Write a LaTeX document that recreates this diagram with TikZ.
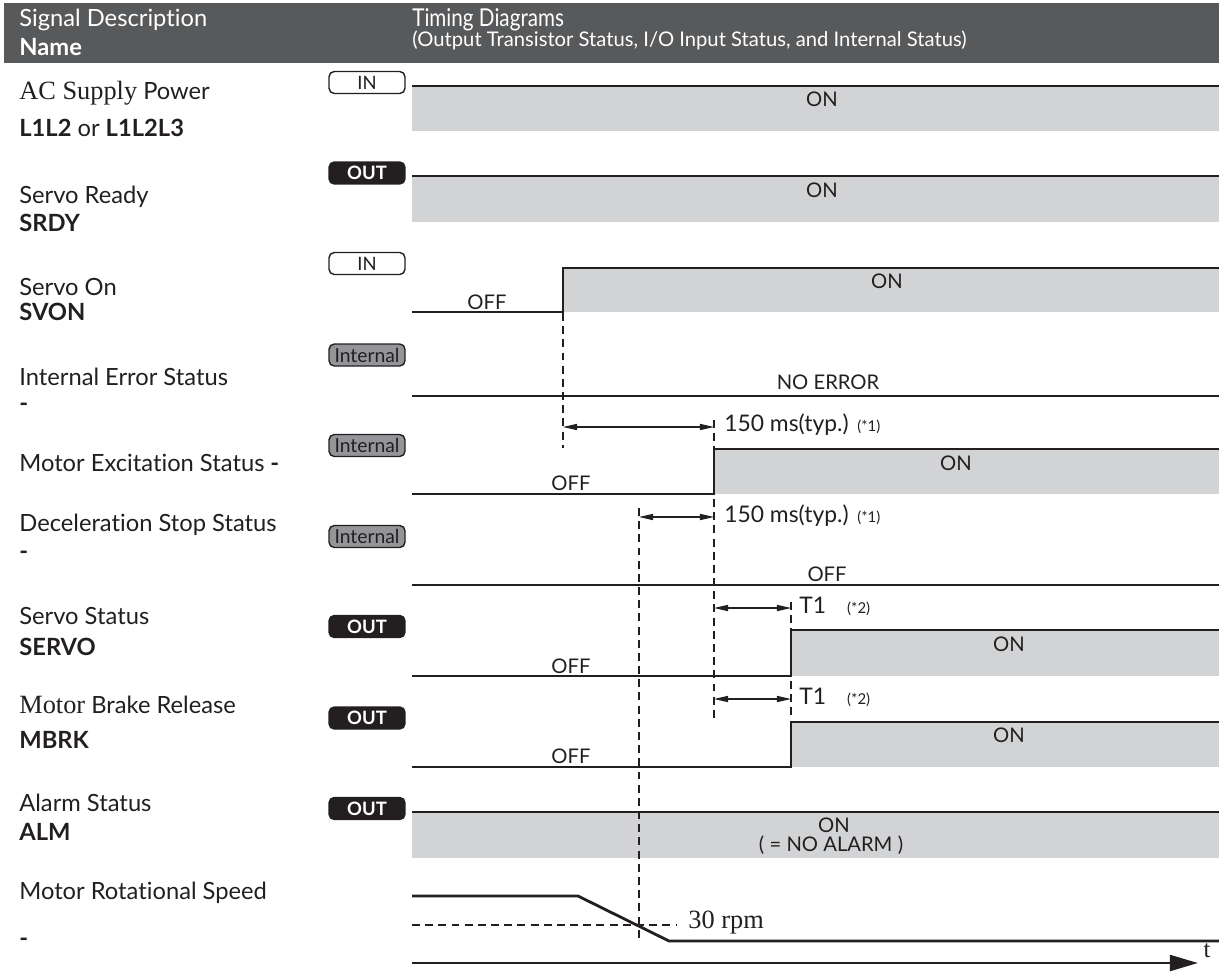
\documentclass[tikz,border=0pt]{standalone}
\usepackage{fontspec}
\usepackage{graphicx}
\setmainfont{Lato}[Ligatures={NoCommon}]
\newfontfamily\serf{Liberation Serif}
\usetikzlibrary{arrows.meta}
\definecolor{hdrgrey}{HTML}{58595B}
\definecolor{bandgrey}{HTML}{D1D3D4}
\definecolor{intgrey}{HTML}{939598}
\definecolor{ink}{HTML}{231F20}

\begin{document}
\begin{tikzpicture}[x=0.02cm,y=-0.02cm,
  wave/.style={line width=1.6pt,ink},
  band/.style={fill=bandgrey},
  guide/.style={dash pattern=on 4.5pt off 3pt,line width=0.6pt,ink},
  span/.style={{Triangle[length=8pt,width=3.5pt]}-{Triangle[length=8pt,width=3.5pt]},line width=0.6pt,ink},
  lbl/.style={anchor=west,inner sep=0pt,text=ink,font=\fontsize{13.5}{15}\selectfont},
  hdrtext/.style={anchor=west,inner sep=0pt,text=white,font=\fontsize{13.5}{15}\selectfont},
  state/.style={inner sep=0pt,text=ink,font=\fontsize{11.5}{13}\selectfont},
  note/.style={anchor=west,inner sep=0pt,text=ink,font=\fontsize{13}{15}\selectfont},
  badge/.style={rounded corners=3pt,minimum width=1.52cm,minimum height=0.44cm,inner sep=0pt,line width=0.8pt,font=\fontsize{10.5}{12}\selectfont},
  inbadge/.style={badge,draw=ink,fill=white,text=ink},
  outbadge/.style={badge,draw=ink,fill=ink,text=white},
  intbadge/.style={badge,draw=ink,fill=intgrey,text=ink,font=\fontsize{11}{12}\selectfont}]
\useasboundingbox (0,0) rectangle (1219,973);

\fill[hdrgrey] (4,3) rectangle (1219,63);
\node[hdrtext] (hsig) at (19,20) {Signal Description};
\node[hdrtext] (hname) at (19,47) {\textbf{Name}};
\node[hdrtext,font=\fontsize{14}{16}\selectfont] (htiming) at (412,20) {\scalebox{0.84}[1]{Timing Diagrams}};
\node[hdrtext,font=\fontsize{11.5}{13}\selectfont] (hsub) at (412,40) {(Output Transistor Status, I/O Input Status, and Internal Status)};

\node[lbl] (lac) at (19,93) {{\serf\fontsize{15}{17}\selectfont AC Supply} Power};
\node[lbl] (lacn) at (19,128) {\textbf{L1L2} or \textbf{L1L2L3}};
\node[lbl] (lsrdy) at (19,197) {Servo Ready};
\node[lbl] (lsrdyn) at (19,223) {\textbf{SRDY}};
\node[lbl] (lsvon) at (19,287) {Servo On};
\node[lbl] (lsvonn) at (19,312) {\textbf{SVON}};
\node[lbl] (lerr) at (19,377) {Internal Error Status};
\node[lbl] (lerrn) at (19,407) {\textbf{-}};
\node[lbl] (lexc) at (19,463) {Motor Excitation Status \textbf{-}};
\node[lbl] (ldec) at (19,525) {Deceleration Stop Status};
\node[lbl] (ldecn) at (19,555) {\textbf{-}};
\node[lbl] (lservo) at (19,616) {Servo Status};
\node[lbl] (lservon) at (19,647) {\textbf{SERVO}};
\node[lbl] (lbrk) at (19,705) {{\serf\fontsize{15}{17}\selectfont Motor} Brake Release};
\node[lbl] (lbrkn) at (19,740) {\textbf{MBRK}};
\node[lbl] (lalm) at (19,803) {Alarm Status};
\node[lbl] (lalmn) at (19,832) {\textbf{ALM}};
\node[lbl] (lspd) at (19,893) {Motor Rotational Speed};
\node[lbl] (lspdn) at (19,942) {\textbf{-}};

\node[inbadge] (bac) at (367,82.5) {IN};
\node[outbadge] (bsrdy) at (367,173) {\textbf{OUT}};
\node[inbadge] (bsvon) at (367,263.5) {IN};
\node[intbadge] (berr) at (367,355) {Internal};
\node[intbadge] (bexc) at (367,445.5) {Internal};
\node[intbadge] (bdec) at (367,536.5) {Internal};
\node[outbadge] (bservo) at (367,626.5) {\textbf{OUT}};
\node[outbadge] (bbrk) at (367,718) {\textbf{OUT}};
\node[outbadge] (balm) at (367,808.5) {\textbf{OUT}};

\fill[band] (412,86) rectangle (1219,131);
\fill[band] (412,176) rectangle (1219,222);
\fill[band] (563,268) rectangle (1219,312);
\fill[band] (714,449) rectangle (1219,494);
\fill[band] (791,630) rectangle (1219,676);
\fill[band] (791,722) rectangle (1219,767);
\fill[band] (412,812) rectangle (1219,858);

\draw[guide] (563,313) -- (563,448);
\draw[guide] (714,420) -- (714,722);
\draw[guide] (639,508) -- (639,940);
\draw[guide] (791,602) -- (791,722);
\draw[guide] (412,925) -- (677,925);

\draw[wave] (412,86) -- (1219,86);
\draw[wave] (412,176) -- (1219,176);
\draw[wave] (412,312) -- (563,312) -- (563,268) -- (1219,268);
\draw[wave] (412,396) -- (1219,396);
\draw[wave] (412,494) -- (714,494) -- (714,449) -- (1219,449);
\draw[wave] (412,585) -- (1219,585);
\draw[wave] (412,676) -- (791,676) -- (791,630) -- (1219,630);
\draw[wave] (412,767) -- (791,767) -- (791,722) -- (1219,722);
\draw[wave] (412,812) -- (1219,812);
\draw[wave] (412,896) -- (578,896) -- (669,941) -- (1219,941);

\node[state] (sac) at (822,99) {ON};
\node[state] (ssrdy) at (822,190) {ON};
\node[state] (ssvoff) at (487,302) {OFF};
\node[state] (ssvon) at (887,281) {ON};
\node[state] (serr) at (828,382) {NO ERROR};
\node[state] (sexoff) at (571,483) {OFF};
\node[state] (sexon) at (956,463) {ON};
\node[state] (sdec) at (827,574) {OFF};
\node[state] (ssroff) at (571,666) {OFF};
\node[state] (ssron) at (1009,644) {ON};
\node[state] (sbkoff) at (571,756) {OFF};
\node[state] (sbkon) at (1009,735) {ON};
\node[state] (salm) at (834,825) {ON};
\node[state] (salmn) at (831,845) {(\hspace{3pt}=\hspace{3pt}NO ALARM\hspace{3pt})};

\coordinate (d1a) at (563,427);
\coordinate (d1b) at (714,427);
\coordinate (d2a) at (639,517);
\coordinate (d2b) at (714,517);
\coordinate (d3a) at (714,608);
\coordinate (d3b) at (791,608);
\coordinate (d4a) at (714,699);
\coordinate (d4b) at (791,699);
\draw[span] (d1a) -- (d1b);
\draw[span] (d2a) -- (d2b);
\draw[span] (d3a) -- (d3b);
\draw[span] (d4a) -- (d4b);
\node[note] (n1) at (724,425) {150 ms(typ.)\hspace{5pt}{\fontsize{8.5}{9}\selectfont(*1)}};
\node[note] (n2) at (724,516) {150 ms(typ.)\hspace{5pt}{\fontsize{8.5}{9}\selectfont(*1)}};
\node[note] (n3) at (799,606) {T1\hspace{12pt}{\fontsize{8.5}{9}\selectfont(*2)}};
\node[note] (n4) at (799,697) {T1\hspace{12pt}{\fontsize{8.5}{9}\selectfont(*2)}};
\node[note,font=\serf\fontsize{15}{17}\selectfont] (rpm) at (688,923) {30 rpm};

\coordinate (t0) at (412,963);
\coordinate (t1) at (1198,963);
\draw[line width=1.6pt,ink,-{Triangle[length=16pt,width=9pt]}] (t0) -- (t1);
\node[state,font=\serf\fontsize{14}{16}\selectfont] (tlbl) at (1207,951) {t};
\end{tikzpicture}
\end{document}
